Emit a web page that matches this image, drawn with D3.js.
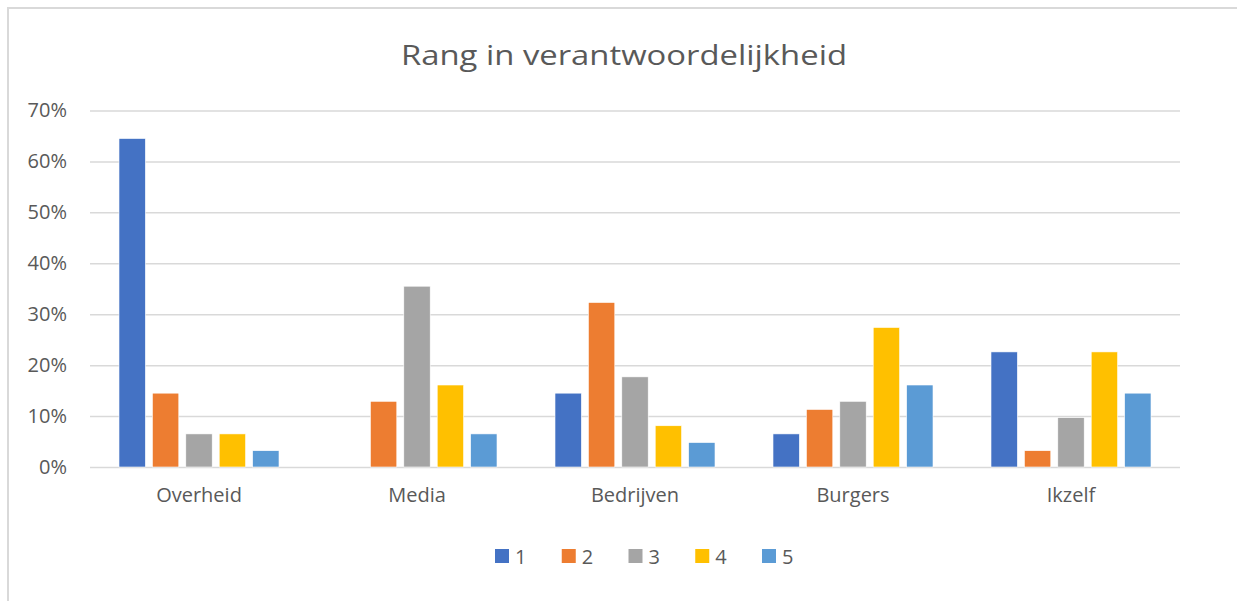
<!DOCTYPE html>
<html><head><meta charset="utf-8">
<script src="https://cdn.jsdelivr.net/npm/d3@7"></script>
<style>body{margin:0;background:#fff;} svg{display:block;font-family:"Open Sans",sans-serif;}</style>
</head><body>
<svg id="c" width="1237" height="601"></svg>
<script>
const categories = ["Overheid","Media","Bedrijven","Burgers","Ikzelf"];
const seriesNames = ["1","2","3","4","5"];
const s1 = [0.645, 0.0, 0.145, 0.065, 0.226];
const s2 = [0.145, 0.129, 0.323, 0.113, 0.032];
const s3 = [0.065, 0.355, 0.177, 0.129, 0.097];
const s4 = [0.065, 0.161, 0.081, 0.274, 0.226];
const s5 = [0.032, 0.065, 0.048, 0.161, 0.145];
const yTicks = [0,0.1,0.2,0.3,0.4,0.5,0.6,0.7];
const colors = ["#4472C4","#ED7D31","#A5A5A5","#FFC000","#5B9BD5"];
const series = [s1,s2,s3,s4,s5];

const svg = d3.select("#c");
const textCol = "#595959";
svg.append("rect").attr("x",8).attr("y",8).attr("width",1250).attr("height",620)
  .attr("fill","#fff").attr("stroke","#d9d9d9").attr("stroke-width",2);

const x0 = d3.scaleBand().domain(categories).range([90,1180]).paddingInner(0.266).paddingOuter(0.133);
const x1 = d3.scaleBand().domain(seriesNames).range([0,x0.bandwidth()]).paddingInner(0.21).paddingOuter(0);
const y = d3.scaleLinear().domain([0,0.7]).range([467,110.5]);

const title = svg.append("text").attr("x",624).attr("y",65).attr("text-anchor","middle")
  .attr("fill",textCol).attr("font-size",28).text("Rang in verantwoordelijkheid");
title.attr("textLength",446).attr("lengthAdjust","spacingAndGlyphs");

const yAxis = d3.axisLeft(y).tickValues(yTicks).tickFormat(d3.format(".0%")).tickSize(-1090).tickPadding(23);
const gy = svg.append("g").attr("transform","translate(90,0)").call(yAxis);
gy.select(".domain").remove();
gy.selectAll(".tick line").attr("stroke","#d9d9d9").attr("stroke-width",1.5);
gy.selectAll(".tick text").attr("fill",textCol).attr("font-size",20).attr("font-family","Open Sans");

const gx = svg.append("g").attr("transform","translate(0,467)")
  .call(d3.axisBottom(x0).tickSize(0).tickPadding(21));
gx.select(".domain").remove();
gx.selectAll(".tick text").attr("fill",textCol).attr("font-size",20).attr("font-family","Open Sans");

const groups = svg.append("g").selectAll("g").data(categories).join("g")
  .attr("transform",d=>`translate(${x0(d)},0)`);
groups.selectAll("rect").data((d,i)=>series.map((s,j)=>({k:seriesNames[j],v:s[i],c:colors[j]})))
  .join("rect")
  .attr("x",d=>x1(d.k)).attr("width",x1.bandwidth())
  .attr("y",d=>y(d.v)).attr("height",d=>y(0)-y(d.v))
  .attr("fill",d=>d.c).attr("stroke","#fff").attr("stroke-width",0.6)
  .style("display",d=>d.v>0?null:"none");

const legend = svg.append("g");
const lx = d3.scalePoint().domain(seriesNames).range([495,762]);
const li = legend.selectAll("g").data(seriesNames).join("g")
  .attr("transform",d=>`translate(${lx(d)},549)`);
li.append("rect").attr("width",14).attr("height",14).attr("fill",(d,i)=>colors[i]);
li.append("text").attr("x",20).attr("y",14.5).attr("fill",textCol).attr("font-size",20).text(d=>d);
</script>
</body></html>
